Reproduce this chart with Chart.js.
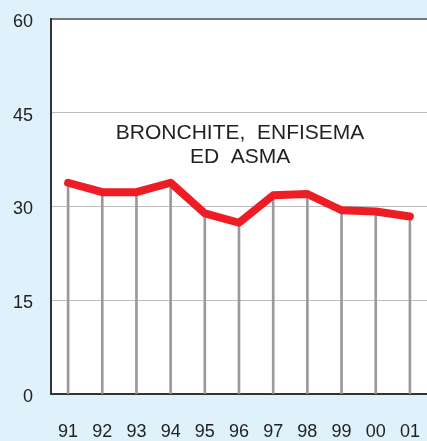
<!DOCTYPE html>
<html>
<head>
<meta charset="utf-8">
<script src="https://cdn.jsdelivr.net/npm/chart.js@4/dist/chart.umd.min.js"></script>
<style>
	html, body { margin:0; padding:0; background:#dff1fa; }
	#wrap { width:427px; height:441px; position:relative; }
</style>
</head>
<body>
<div id="wrap"><canvas id="chart" width="427" height="441"></canvas></div>
<script>
//데이터
var anni = ['91','92','93','94','95','96','97','98','99','00','01'];
var valori = [33.8, 32.3, 32.3, 33.8, 28.9, 27.4, 31.8, 32.0, 29.4, 29.2, 28.4];
var yTicks = [0, 15, 30, 45, 60];
var etichetta = ['BRONCHITE,  ENFISEMA', 'ED  ASMA'];

//배경 + 라벨
var sfondo = {
	id: 'sfondo',
	beforeDraw: function (chart) {
		var a = chart.chartArea, ctx = chart.ctx;
		ctx.save();
		ctx.fillStyle = '#ffffff';
		ctx.fillRect(a.left, a.top, a.right - a.left, a.bottom - a.top);
		ctx.restore();
	},
	afterDatasetsDraw: function (chart) {
		var ctx = chart.ctx;
		var x = (chart.scales.x.getPixelForValue(5) + chart.scales.x.getPixelForValue(6)) / 2;
		var y = chart.scales.y.getPixelForValue(41.8);
		ctx.save();
		ctx.font = '21px "Liberation Sans", Arial, sans-serif';
		ctx.fillStyle = '#222';
		ctx.textAlign = 'center';
		ctx.textBaseline = 'middle';
		ctx.fillText(etichetta[0], x - 16, y);
		ctx.fillText(etichetta[1], x - 16, y + 24);
		ctx.restore();
	}
};

new Chart(document.getElementById('chart'), {
	type: 'bar',
	data: {
		labels: anni,
		datasets: [
			{
				type: 'line',
				data: valori,
				borderColor: '#ee1d25',
				borderWidth: 8,
				borderCapStyle: 'round',
				borderJoinStyle: 'round',
				pointRadius: 0,
				tension: 0,
				order: 0
			},
			{
				type: 'bar',
				data: valori,
				backgroundColor: '#9a9a9a',
				barThickness: 2,
				order: 1
			}
		]
	},
	options: {
		responsive: false,
		animation: false,
		layout: { padding: { top: 19, right: 0, left: 0, bottom: 0 } },
		plugins: { legend: { display: false }, tooltip: { enabled: false } },
		scales: {
			x: {
				offset: true,
				grid: { display: true, drawOnChartArea: false, drawTicks: true, tickLength: 23, tickColor: 'rgba(0,0,0,0)' },
				border: { color: '#333', width: 2 },
				ticks: { color: '#222', padding: 4, font: { family: '"Liberation Sans", Arial', size: 18 } },
				afterFit: function (s) { s.height = 47; }
			},
			y: {
				min: 0, max: 60,
				afterBuildTicks: function (s) { s.ticks = yTicks.map(function (v) { return { value: v }; }); },
				grid: {
					color: function (c) { return c.tick.value === 60 ? '#777' : '#bdbdbd'; },
					lineWidth: function (c) { return c.tick.value === 60 ? 2 : 1; },
					drawTicks: false
				},
				border: { color: '#333', width: 2 },
				ticks: { color: '#222', padding: 18, labelOffset: 3, font: { family: '"Liberation Sans", Arial', size: 18 } },
				afterFit: function (s) { s.width = 51; s.paddingTop = 0; s.paddingBottom = 0; }
			}
		}
	},
	plugins: [sfondo]
});
</script>
</body>
</html>
